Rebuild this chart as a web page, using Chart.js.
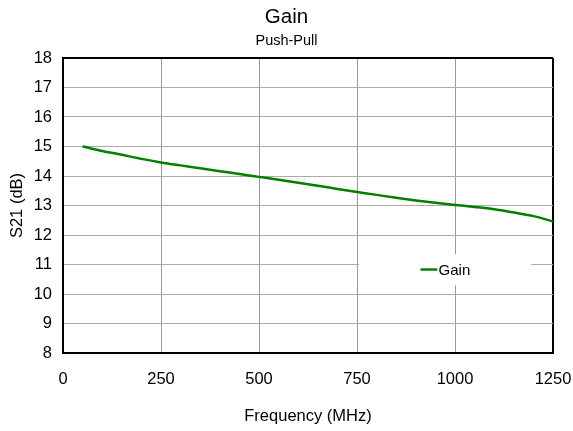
<!DOCTYPE html>
<html>
<head>
<meta charset="utf-8">
<script src="https://cdn.jsdelivr.net/npm/chart.js@4.4.1/dist/chart.umd.min.js"></script>
<style>
  html, body { margin: 0; padding: 0; background: #fff; }
  #wrap { width: 573px; height: 431px; }
</style>
</head>
<body>
<div id="wrap"><canvas id="myChart" width="573" height="431"></canvas></div>
<script>
// frequency in MHz, gain in dB
const freq = [50, 100, 150, 200, 250, 300, 350, 400, 450, 500, 550, 600, 650,
              700, 750, 800, 850, 900, 950, 1000, 1050, 1100, 1150, 1200, 1250];
const gain = [15.0, 14.85, 14.72, 14.58, 14.46, 14.36, 14.26, 14.16, 14.07, 13.97,
              13.87, 13.77, 13.67, 13.56, 13.46, 13.36, 13.26, 13.17, 13.09, 13.02,
              12.95, 12.87, 12.76, 12.64, 12.46];
const xTicks = [0, 250, 500, 750, 1000, 1250];
const yTicks = [8, 9, 10, 11, 12, 13, 14, 15, 16, 17, 18];

const FONT = "'Liberation Sans', Arial, sans-serif";

// legend drawn inside the plot, on a white box
const legendBox = {
    id: 'legendBox',
    afterDatasetsDraw(chart) {
        const c = chart.ctx;
        const x = chart.scales.x;
        const y = chart.scales.y;
        const left = x.getPixelForValue(755);
        const right = x.getPixelForValue(1195);
        const top = y.getPixelForValue(11.35);
        const bottom = y.getPixelForValue(10.3);
        c.save();
        c.fillStyle = '#fff';
        c.fillRect(left, top, right - left, bottom - top);
        const mid = y.getPixelForValue(10.83);
        c.strokeStyle = '#008000';
        c.lineWidth = 2.5;
        c.beginPath();
        c.moveTo(x.getPixelForValue(912), mid);
        c.lineTo(x.getPixelForValue(955), mid);
        c.stroke();
        c.fillStyle = '#000';
        c.font = '15px ' + FONT;
        c.textBaseline = 'middle';
        c.fillText('Gain', x.getPixelForValue(958), mid + 1);
        c.restore();
    }
};

const chart = new Chart(document.getElementById('myChart'), {
    type: 'line',
    data: {
        datasets: [{
            label: 'Gain',
            data: freq.map((f, i) => ({ x: f, y: gain[i] })),
            borderColor: '#008000',
            borderWidth: 2.5,
            pointRadius: 0,
            cubicInterpolationMode: 'monotone',
            fill: false
        }]
    },
    options: {
        responsive: false,
        animation: false,
        layout: { padding: { left: 0, right: 0, top: 0, bottom: 0 } },
        plugins: {
            legend: { display: false },
            tooltip: { enabled: false },
            title: {
                display: true,
                text: 'Gain',
                color: '#000',
                font: { family: FONT, size: 20.5, weight: 'normal' },
                padding: { top: 5, bottom: 3 }
            },
            subtitle: {
                display: true,
                text: 'Push-Pull',
                color: '#000',
                font: { family: FONT, size: 14.5 },
                padding: { top: 0, bottom: 8 }
            }
        },
        scales: {
            x: {
                type: 'linear',
                min: 0,
                max: 1250,
                afterBuildTicks(scale) {
                    scale.ticks = xTicks.map(v => ({ value: v }));
                },
                afterFit(scale) {
                    scale.height = 78;
                    scale.paddingLeft = 0;
                    scale.paddingRight = 20;
                },
                ticks: {
                    color: '#000',
                    font: { family: FONT, size: 16.5 },
                    padding: 17,
                    callback: v => String(v)
                },
                grid: {
                    drawTicks: false,
                    color: ctx => ctx.tick && ctx.tick.value === 1250 ? '#000' : '#999',
                    lineWidth: ctx => ctx.tick && ctx.tick.value === 1250 ? 2 : 1
                },
                border: { display: true, color: '#000', width: 2 },
                title: {
                    display: true,
                    text: 'Frequency (MHz)',
                    color: '#000',
                    font: { family: FONT, size: 16.5 },
                    padding: { top: 0, bottom: 5 }
                }
            },
            y: {
                min: 8,
                max: 18,
                afterBuildTicks(scale) {
                    scale.ticks = yTicks.map(v => ({ value: v }));
                },
                afterFit(scale) {
                    scale.width = 63;
                },
                ticks: {
                    color: '#000',
                    font: { family: FONT, size: 16.5 },
                    padding: 11
                },
                grid: {
                    drawTicks: false,
                    color: ctx => ctx.tick && ctx.tick.value === 18 ? '#000' : '#aaa',
                    lineWidth: ctx => ctx.tick && ctx.tick.value === 18 ? 2 : 1
                },
                border: { display: true, color: '#000', width: 2 },
                title: {
                    display: true,
                    text: 'S21 (dB)',
                    color: '#000',
                    font: { family: FONT, size: 16.5 },
                    padding: { top: 8, bottom: 0 }
                }
            }
        }
    },
    plugins: [legendBox]
});
</script>
</body>
</html>
